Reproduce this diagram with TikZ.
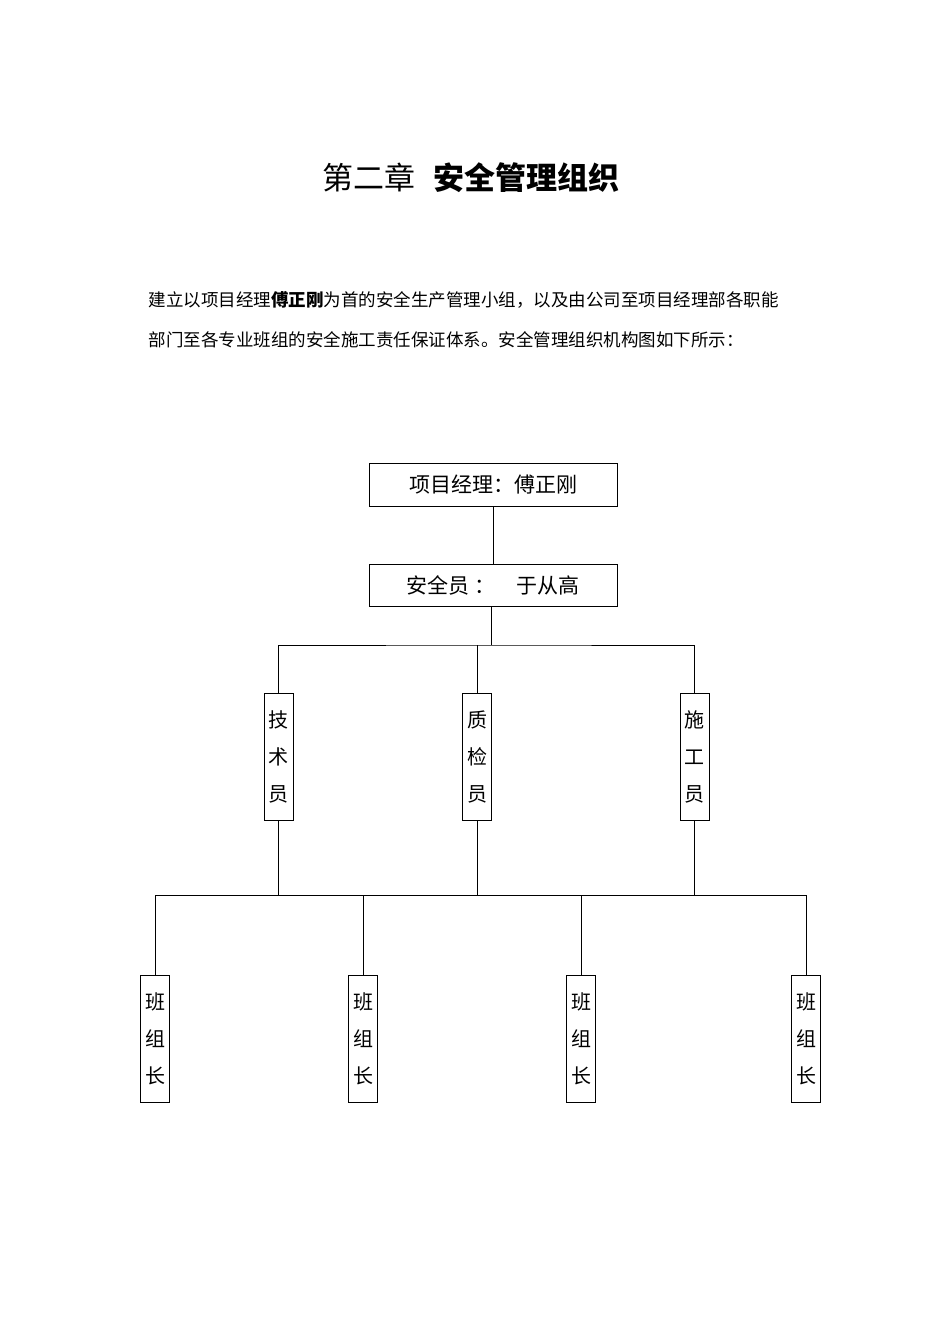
\documentclass[tikz,border=0pt]{standalone}
\usepackage{fontspec}
\setmainfont{Noto Sans CJK SC}
\begin{document}
\begin{tikzpicture}[x=1pt,y=-1pt,
  box/.style={draw,line width=0.8pt,inner sep=0pt,font=\fontsize{21}{21}\selectfont},
  vbox/.style={draw,line width=0.8pt,minimum width=29pt,minimum height=127pt,inner sep=0pt,align=center,font=\fontsize{20}{37}\selectfont},
  ln/.style={line width=0.8pt}]
\useasboundingbox (0,0) rectangle (950,1344);
\node[font=\fontsize{31}{31}\selectfont] (title) at (471,178) {第二章\hspace{0.6em}\textbf{安全管理组织}};
\node[anchor=west,font=\fontsize{17.5}{17.5}\selectfont] (p1) at (145,300) {建立以项目经理\textbf{傅正刚}为首的安全生产管理小组，以及由公司至项目经理部各职能};
\node[anchor=west,font=\fontsize{17.5}{17.5}\selectfont] (p2) at (145,340) {部门至各专业班组的安全施工责任保证体系。安全管理组织机构图如下所示：};
\node[box,minimum width=248pt,minimum height=43pt] (pm) at (493,484.5) {项目经理：傅正刚};
\node[box,minimum width=248pt,minimum height=42pt] (sa) at (493,585) {安全员 ：\quad 于从高};
\draw[ln] (pm.south) -- (sa.north);
\coordinate (h1) at (491,645);
\draw[ln] (491,606) -- (h1);
\node[vbox] (a) at (278.5,756.5) {技\\术\\员};
\node[vbox] (b) at (477,756.5) {质\\检\\员};
\node[vbox] (c) at (694.5,756.5) {施\\工\\员};
\draw[ln] (a.north) |- (h1) -| (c.north);
\draw[ln] (b.north) -- (b.north |- h1);
\coordinate (h2) at (478,895);
\node[vbox] (d) at (155,1038.5) {班\\组\\长};
\node[vbox] (e) at (363,1038.5) {班\\组\\长};
\node[vbox] (f) at (581,1038.5) {班\\组\\长};
\node[vbox] (g) at (806,1038.5) {班\\组\\长};
\draw[ln] (d.north) |- (h2) -| (g.north);
\draw[ln] (e.north) -- (e.north |- h2);
\draw[ln] (f.north) -- (f.north |- h2);
\draw[ln] (a.south) -- (a.south |- h2);
\draw[ln] (b.south) -- (b.south |- h2);
\draw[ln] (c.south) -- (c.south |- h2);
\end{tikzpicture}
\end{document}
